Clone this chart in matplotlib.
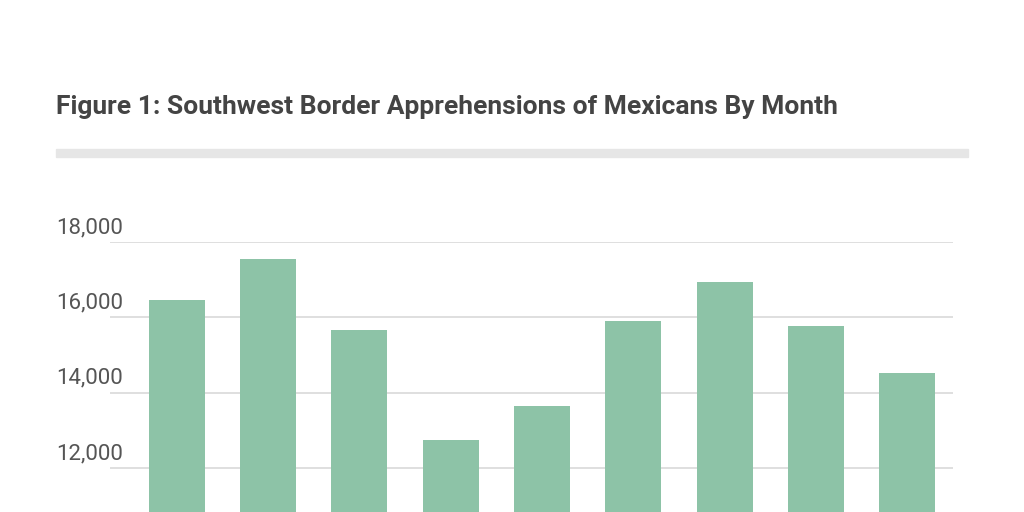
import matplotlib
matplotlib.use("Agg")
import matplotlib.pyplot as plt

months = ["M1", "M2", "M3", "M4", "M5", "M6", "M7", "M8", "M9"]
apprehensions = [16460, 17550, 15670, 12730, 13655, 15910, 16940, 15775, 14530]
yticks = [12000, 14000, 16000, 18000]

plt.rcParams['font.family'] = ['Roboto', 'DejaVu Sans']
W, H = 1024, 512
fig = plt.figure(figsize=(W/100, H/100), dpi=100)
fig.patch.set_facecolor('white')

fig.text(56/W, 1-107/H, "Figure 1: Southwest Border Apprehensions of Mexicans By Month",
         fontsize=19, fontweight='bold', color='#444444', va='center', ha='left')
fig.patches.append(plt.Rectangle((56/W, 1-157/H), 912/W, 8/H, transform=fig.transFigure,
                                 color='#e6e6e6', zorder=0))

ax = fig.add_axes([110/W, 0, 843/W, 1-242/H])
x = list(range(len(months)))
ax.bar(x, apprehensions, width=56/91.25, color='#8dc3a7', zorder=3)
ax.set_xlim(-0.734, 8.504)
ax.set_ylim(10830, 18000)
ax.set_yticks(yticks)
ax.grid(axis='y', color='#d9d9d9', linewidth=1.2, zorder=0)
ax.set_yticklabels([f"{v:,}" for v in yticks])
ax.tick_params(axis='y', length=0, labelsize=16, labelcolor='#555555', pad=0)
for lab in ax.get_yticklabels():
    lab.set_horizontalalignment('left')
    lab.set_verticalalignment('bottom')
    lab.set_x(-54/843)
import matplotlib.transforms as mt
for lab in ax.get_yticklabels():
    lab.set_transform(lab.get_transform() + mt.ScaledTranslation(0, 4/100, fig.dpi_scale_trans))
ax.set_xticks([])
for s in ax.spines.values():
    s.set_visible(False)
fig.savefig("out.png", dpi=100)
